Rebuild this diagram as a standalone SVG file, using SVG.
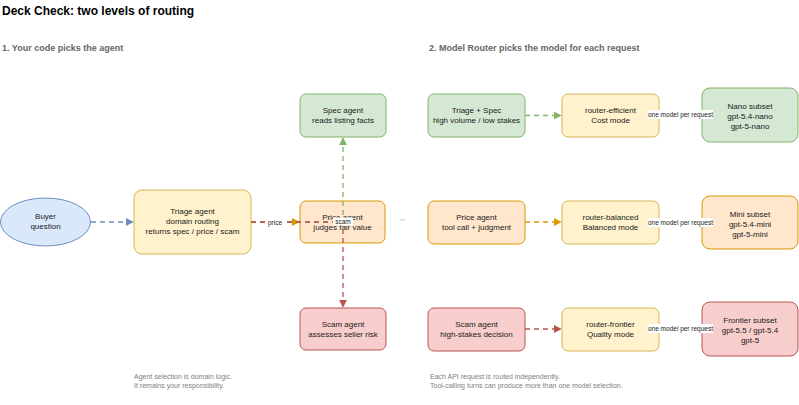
<svg xmlns="http://www.w3.org/2000/svg" width="799" height="405" viewBox="0 0 799 405">
<defs>
<style>
text{font-family:"Liberation Sans",Arial,sans-serif;}
.t{font-size:8px;fill:#1a1a1a;text-anchor:middle;}
.lbl{font-size:6.5px;fill:#1a1a1a;text-anchor:middle;}
.hd{font-size:9px;font-weight:bold;fill:#666;}
.ft{font-size:7px;fill:#808080;}
.g{fill:#d5e8d4;stroke:#82b366;}
.y{fill:#fff2cc;stroke:#d6b656;}
.o{fill:#ffe6cc;stroke:#d79b00;}
.r{fill:#f8cecc;stroke:#b85450;}
.b{fill:#dae8fc;stroke:#6c8ebf;}
.e{fill:none;stroke-width:1.3;stroke-dasharray:5 4;}
</style>
<marker id="ag" viewBox="0 0 10 10" refX="9" refY="5" markerWidth="6" markerHeight="6" orient="auto"><path d="M0,0 L10,5 L0,10 z" fill="#82b366"/></marker>
<marker id="ao" viewBox="0 0 10 10" refX="9" refY="5" markerWidth="6" markerHeight="6" orient="auto"><path d="M0,0 L10,5 L0,10 z" fill="#d79b00"/></marker>
<marker id="ar" viewBox="0 0 10 10" refX="9" refY="5" markerWidth="6" markerHeight="6" orient="auto"><path d="M0,0 L10,5 L0,10 z" fill="#b85450"/></marker>
<marker id="ab" viewBox="0 0 10 10" refX="9" refY="5" markerWidth="6" markerHeight="6" orient="auto"><path d="M0,0 L10,5 L0,10 z" fill="#6c8ebf"/></marker>
</defs>
<rect width="799" height="405" fill="#fff"/>
<text x="2" y="15" style="font-size:12px;font-weight:bold;fill:#000">Deck Check: two levels of routing</text>
<text class="hd" x="2" y="51">1. Your code picks the agent</text>
<text class="hd" x="429" y="51">2. Model Router picks the model for each request</text>

<g id="n-buyer"><ellipse class="b" cx="45.5" cy="222" rx="45" ry="24"/><text class="t" x="45.5" y="219">Buyer</text><text class="t" x="45.5" y="229">question</text></g>
<g id="n-triage"><rect class="y" x="134" y="190" width="117" height="64" rx="8"/><text class="t" x="192.5" y="214">Triage agent</text><text class="t" x="192.5" y="224">domain routing</text><text class="t" x="192.5" y="234">returns spec / price / scam</text></g>
<g id="n-spec"><rect class="g" x="300" y="94" width="86" height="43" rx="6"/><text class="t" x="343" y="113">Spec agent</text><text class="t" x="343" y="123">reads listing facts</text></g>
<g id="n-price"><rect class="o" x="300" y="201" width="85" height="42" rx="6"/><text class="t" x="342.5" y="220">Price agent</text><text class="t" x="342.5" y="230">judges fair value</text></g>
<g id="n-scam"><rect class="r" x="300" y="308" width="86" height="42" rx="6"/><text class="t" x="343" y="327">Scam agent</text><text class="t" x="343" y="337">assesses seller risk</text></g>

<g id="n-ts"><rect class="g" x="428" y="94" width="97" height="43" rx="6"/><text class="t" x="476.5" y="113">Triage + Spec</text><text class="t" x="476.5" y="123">high volume / low stakes</text></g>
<g id="n-re"><rect class="y" x="562" y="94" width="97" height="43" rx="6"/><text class="t" x="610.5" y="113">router-efficient</text><text class="t" x="610.5" y="123">Cost mode</text></g>
<g id="n-nano"><rect class="g" x="702" y="88" width="96" height="54" rx="8"/><text class="t" x="750" y="109">Nano subset</text><text class="t" x="750" y="119">gpt-5.4-nano</text><text class="t" x="750" y="129">gpt-5-nano</text></g>

<g id="n-pa"><rect class="o" x="428" y="201" width="97" height="43" rx="6"/><text class="t" x="476.5" y="220">Price agent</text><text class="t" x="476.5" y="230">tool call + judgment</text></g>
<g id="n-rb"><rect class="y" x="562" y="201" width="97" height="43" rx="6"/><text class="t" x="610.5" y="220">router-balanced</text><text class="t" x="610.5" y="230">Balanced mode</text></g>
<g id="n-mini"><rect class="o" x="702" y="196" width="96" height="53" rx="8"/><text class="t" x="750" y="217">Mini subset</text><text class="t" x="750" y="227">gpt-5.4-mini</text><text class="t" x="750" y="237">gpt-5-mini</text></g>

<g id="n-sa"><rect class="r" x="428" y="308" width="97" height="43" rx="6"/><text class="t" x="476.5" y="327">Scam agent</text><text class="t" x="476.5" y="337">high-stakes decision</text></g>
<g id="n-rf"><rect class="y" x="562" y="308" width="97" height="43" rx="6"/><text class="t" x="610.5" y="327">router-frontier</text><text class="t" x="610.5" y="337">Quality mode</text></g>
<g id="n-front"><rect class="r" x="702" y="302" width="96" height="54" rx="8"/><text class="t" x="750" y="323">Frontier subset</text><text class="t" x="750" y="333">gpt-5.5 / gpt-5.4</text><text class="t" x="750" y="343">gpt-5</text></g>

<g id="connectors">
<path class="e" d="M91,222 H133" stroke="#6c8ebf" marker-end="url(#ab)"/>
<path class="e" d="M251,222 H343 V138" stroke="#82b366" marker-end="url(#ag)"/>
<path class="e" d="M251,222 H299" stroke="#d79b00" marker-end="url(#ao)"/>
<path class="e" d="M251,222 H343 V307" stroke="#b85450" marker-end="url(#ar)"/>
<rect x="266" y="218" width="18" height="8" fill="#fff"/><text class="lbl" x="275" y="224.5">price</text>
<rect x="333" y="217.5" width="20" height="8" fill="#fff"/><text class="lbl" x="343" y="224">scam</text>
<rect x="400" y="219" width="5" height="1.5" fill="#ddd"/>

<path class="e" d="M525,115.5 H561" stroke="#82b366" marker-end="url(#ag)"/>
<path class="e" d="M525,222 H561" stroke="#d79b00" marker-end="url(#ao)"/>
<path class="e" d="M525,329 H561" stroke="#b85450" marker-end="url(#ar)"/>
<path d="M659,115 H702 M659,222 H702 M659,329 H702" stroke="#999"/>
<rect x="648" y="110" width="65" height="9" fill="#fff"/><text class="lbl" x="680.5" y="117">one model per request</text>
<rect x="648" y="218" width="65" height="9" fill="#fff"/><text class="lbl" x="680.5" y="224.5">one model per request</text>
<rect x="648" y="324" width="65" height="9" fill="#fff"/><text class="lbl" x="680.5" y="331">one model per request</text>
</g>

<text class="ft" x="134" y="379">Agent selection is domain logic.</text>
<text class="ft" x="134" y="388">It remains your responsibility.</text>
<text class="ft" x="430" y="379">Each API request is routed independently.</text>
<text class="ft" x="430" y="388">Tool-calling turns can produce more than one model selection.</text>
</svg>
